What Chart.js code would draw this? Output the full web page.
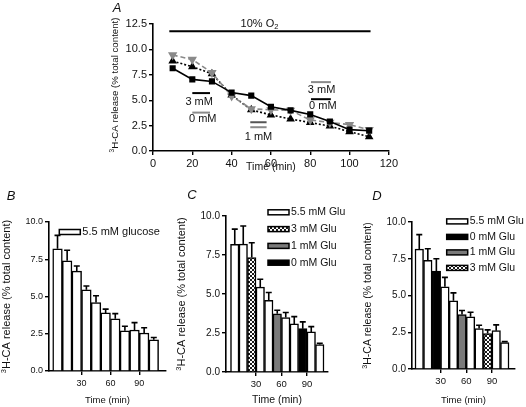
<!DOCTYPE html>
<html>
<head>
<meta charset="utf-8">
<script src="https://cdn.jsdelivr.net/npm/chart.js@4.4.1/dist/chart.umd.min.js"></script>
<style>
  html, body { margin: 0; padding: 0; background: #fff; }
  #fig { position: relative; width: 526px; height: 407px; overflow: hidden; }
  #fig canvas { position: absolute; }
</style>
</head>
<body>
<div id="fig">
  <canvas id="pA" width="300" height="180" style="left:100px;top:0px"></canvas>
  <canvas id="pB" width="175" height="227" style="left:0px;top:180px"></canvas>
  <canvas id="pC" width="175" height="227" style="left:175px;top:180px"></canvas>
  <canvas id="pD" width="176" height="227" style="left:350px;top:180px"></canvas>
</div>
<script>
// ─── DATA ─────────────────────────────────────────────────────────────────────
// panel A: single-run time courses (min, % total content)
const timeA = [10, 20, 30, 40, 50, 60, 70, 80, 90, 100, 110];
const lineSquares   = [8.15, 7.05, 6.85, 5.75, 5.45, 4.35, 4.0, 3.6, 2.9, 2.1, 2.0];
const lineGrey      = [9.45, 9.0, 7.7, 5.4, 4.15, 4.05, 4.0, 3.05, 2.8, 2.6, 2.1];
const lineTriangles = [8.85, 8.3, 7.6, 5.5, 4.05, 3.55, 3.15, 2.8, 2.45, 1.9, 1.4];

// panels B-D: 10 min collection bins, mean and SEM
const binMid = [5, 15, 25, 35, 45, 55, 65, 75, 85, 95, 105];
const meanB = [8.2, 7.4, 6.7, 5.45, 4.6, 3.9, 3.5, 2.7, 2.75, 2.55, 2.1];
const semB  = [0.9, 0.7, 0.35, 0.25, 0.45, 0.25, 0.35, 0.3, 0.5, 0.35, 0.15];
const gluB  = ['5.5','5.5','5.5','5.5','5.5','5.5','5.5','5.5','5.5','5.5','5.5'];

const meanC = [8.18, 8.2, 7.34, 5.44, 4.6, 3.73, 3.49, 3.08, 2.78, 2.57, 1.76];
const semC  = [0.98, 1.16, 0.95, 0.51, 0.5, 0.23, 0.32, 0.47, 0.43, 0.34, 0.08];
const gluC  = ['5.5','5.5','3','5.5','5.5','1','5.5','5.5','0','5.5','5.5'];

const meanD = [8.16, 7.39, 6.66, 5.59, 4.64, 3.7, 3.55, 2.75, 2.41, 2.61, 1.8];
const semD  = [0.98, 0.79, 0.84, 0.64, 0.54, 0.28, 0.31, 0.23, 0.25, 0.39, 0.06];
const gluD  = ['5.5','5.5','0','5.5','5.5','1','5.5','5.5','3','5.5','5.5'];

const legendC = ['5.5', '3', '1', '0'];
const legendD = ['5.5', '0', '1', '3'];
const ticksBars = [30, 60, 90];

// panel A protocol marks (time span, level on y)
const o2Span = { from: 8.3, to: 110.7, level: 11.78 };
const gluMarksA = [
  { from: 20, to: 29, level: 5.7, tone: 'k' },
  { from: 20, to: 29, level: 3.78, tone: 'g' },
  { from: 49.5, to: 57.8, level: 2.83, tone: 'd' },
  { from: 49.5, to: 57.8, level: 2.34, tone: 'g' },
  { from: 80.4, to: 90.5, level: 6.78, tone: 'g' },
  { from: 80.4, to: 90.5, level: 5.1, tone: 'k' }
];
const gluTextA = [
  { text: '3 mM', x: 23.5, y: 4.87 },
  { text: '0 mM', x: 25.3, y: 3.16 },
  { text: '1 mM', x: 53.7, y: 1.41 },
  { text: '3 mM', x: 85.8, y: 6.02 },
  { text: '0 mM', x: 86.4, y: 4.44 }
];

// ─── STYLE ────────────────────────────────────────────────────────────────────
const FAMILY = "'Liberation Sans', Arial, Helvetica, sans-serif";
const GREY = '#8a8a8a';
const TONES = { k: '#000', g: GREY, d: '#555' };
Chart.defaults.font.family = FAMILY;
Chart.defaults.color = '#111';
Chart.defaults.animation = false;

function hatch() {
  const t = document.createElement('canvas');
  t.width = t.height = 4;
  const g = t.getContext('2d');
  g.fillStyle = '#fff'; g.fillRect(0, 0, 4, 4);
  g.strokeStyle = '#000'; g.lineWidth = 0.9;
  g.beginPath(); g.moveTo(0, 0); g.lineTo(4, 4); g.moveTo(4, 0); g.lineTo(0, 4); g.stroke();
  return document.getElementById('pC').getContext('2d').createPattern(t, 'repeat');
}
const FILLS = { '5.5': '#fff', '3': hatch(), '1': '#7a7a7a', '0': '#000' };

function axis(o) {
  const a = {
    type: 'linear', min: o.min, max: o.max, offset: false,
    border: { display: true, color: '#000', width: 1.6 },
    grid: { display: true, drawOnChartArea: false, drawTicks: true, tickLength: o.tick || 4, color: '#000', lineWidth: 1.4, offset: false },
    ticks: { color: '#111', font: { size: o.size }, padding: o.pad ?? 2, stepSize: o.step, maxRotation: 0, autoSkip: false,
             callback: o.fmt || (v => v) },
    title: o.title ? { display: true, text: o.title, color: '#111', font: { size: o.titleSize }, padding: { top: 0, bottom: o.titlePad || 0 } }
                   : { display: false },
    afterFit: s => { if (o.w) s.width = o.w; if (o.h) s.height = o.h; }
  };
  if (o.only) a.afterBuildTicks = s => { s.ticks = o.only.map(v => ({ value: v })); };
  return a;
}
const fmt1 = v => Number(v).toFixed(1);

function textSub(ctx, main, small, x, y, size, raise) {
  // draws main text with a small sub/superscript; raise puts it in front, raised
  ctx.font = `${size}px ${FAMILY}`;
  const wm = ctx.measureText(main).width;
  ctx.font = `${size * 0.68}px ${FAMILY}`;
  const ws = ctx.measureText(small).width;
  let x0 = x - (wm + ws) / 2;
  ctx.textAlign = 'left'; ctx.textBaseline = 'middle';
  if (raise) {
    ctx.fillText(small, x0, y - size * 0.32);
    ctx.font = `${size}px ${FAMILY}`;
    ctx.fillText(main, x0 + ws, y);
  } else {
    ctx.font = `${size}px ${FAMILY}`;
    ctx.fillText(main, x0, y);
    ctx.font = `${size * 0.68}px ${FAMILY}`;
    ctx.fillText(small, x0 + wm, y + size * 0.3);
  }
}

// ─── DECOR PLUGIN (letters, y titles, legends, SEM whiskers, protocol marks) ─────
const decor = {
  id: 'decor',
  afterDraw(chart, args, o) {
    const { ctx, chartArea: a, scales: { x, y } } = chart;
    ctx.save();
    ctx.fillStyle = '#111';

    if (o.marks) {
      ctx.lineWidth = 2;
      o.marks.forEach(m => {
        ctx.strokeStyle = TONES[m.tone] || '#000';
        const py = y.getPixelForValue(m.level);
        ctx.beginPath(); ctx.moveTo(x.getPixelForValue(m.from), py); ctx.lineTo(x.getPixelForValue(m.to), py); ctx.stroke();
      });
      ctx.font = `11px ${FAMILY}`; ctx.textAlign = 'center'; ctx.textBaseline = 'middle';
      o.markText.forEach(t => ctx.fillText(t.text, x.getPixelForValue(t.x), y.getPixelForValue(t.y)));
      textSub(ctx, '10% O', '2', x.getPixelForValue(54.2), y.getPixelForValue(12.5), 11, false);
    }

    if (o.sem) {
      ctx.strokeStyle = '#000'; ctx.lineWidth = 1.6;
      const ds = chart.data.datasets[0];
      chart.getDatasetMeta(0).data.forEach((bar, i) => {
        const top = y.getPixelForValue(ds.data[i].y + ds.data[i].sem);
        ctx.beginPath();
        ctx.moveTo(bar.x, bar.y); ctx.lineTo(bar.x, top);
        ctx.moveTo(bar.x - 3, top); ctx.lineTo(bar.x + 3, top);
        ctx.stroke();
      });
    }

    if (o.legend) {
      const L = o.legend;
      L.items.forEach((it, i) => {
        const bx = a.left + L.dx, by = a.top + L.dy + i * L.gap;
        ctx.fillStyle = it.fill; ctx.fillRect(bx, by - 2.5, 21, 5);
        ctx.strokeStyle = '#000'; ctx.lineWidth = 1.5; ctx.strokeRect(bx, by - 2.5, 21, 5);
        ctx.fillStyle = '#111'; ctx.font = `${L.size}px ${FAMILY}`;
        ctx.textAlign = 'left'; ctx.textBaseline = 'middle';
        ctx.fillText(it.label, bx + 23, by);
      });
    }

    if (o.yTitle) {
      const t = o.yTitle;
      ctx.fillStyle = '#111';
      ctx.translate(a.left + t.dx, t.cy ?? (a.top + a.bottom) / 2);
      ctx.rotate(-Math.PI / 2);
      textSub(ctx, 'H-CA release (% total content)', '3', 0, 0, t.size, true);
      ctx.setTransform(1, 0, 0, 1, 0, 0);
    }

    if (o.letter) {
      ctx.fillStyle = '#111';
      ctx.font = `italic 13px ${FAMILY}`; ctx.textAlign = 'center'; ctx.textBaseline = 'middle';
      ctx.fillText(o.letter.text, o.letter.x, o.letter.y);
    }
    ctx.restore();
  }
};

// ─── PANEL A ──────────────────────────────────────────────────────────────────
new Chart(document.getElementById('pA'), {
  type: 'line',
  data: {
    labels: timeA,
    datasets: [
      { data: lineSquares, borderColor: '#000', backgroundColor: '#000', borderWidth: 1.6,
        pointStyle: 'rect', pointRadius: 3.2 },
      { data: lineGrey, borderColor: GREY, backgroundColor: GREY, borderWidth: 1.6, borderDash: [5, 3],
        pointStyle: 'triangle', pointRotation: 180, pointRadius: 3.8 },
      { data: lineTriangles, borderColor: '#000', backgroundColor: '#000', borderWidth: 1.6, borderDash: [2, 2],
        pointStyle: 'triangle', pointRadius: 3.4 }
    ]
  },
  options: {
    responsive: false, devicePixelRatio: 1,
    layout: { padding: { top: 24, right: 10, left: 0, bottom: 0 } },
    plugins: {
      legend: { display: false }, tooltip: { enabled: false },
      decor: { marks: gluMarksA.concat([{ ...o2Span, tone: 'k' }]), markText: gluTextA,
               yTitle: { dx: -38, cy: 85, size: 9.7 }, letter: { text: 'A', x: 17, y: 8 } }
    },
    scales: {
      x: axis({ min: 0, max: 120, step: 20, size: 11, pad: 2, title: 'Time (min)', titleSize: 10.5, titlePad: 7, h: 29 }),
      y: axis({ min: 0, max: 12.5, step: 2.5, size: 11, pad: 2, fmt: fmt1, w: 53 })
    }
  },
  plugins: [decor]
});

// ─── PANELS B-D ───────────────────────────────────────────────────────────────
function barPanel(id, p) {
  return new Chart(document.getElementById(id), {
    type: 'bar',
    data: {
      datasets: [{
        data: binMid.map((m, i) => ({ x: m, y: p.mean[i], sem: p.sem[i] })),
        backgroundColor: p.glu.map(g => FILLS[g]),
        borderColor: '#000', borderWidth: 1.5, borderSkipped: 'bottom',
        barPercentage: 1, categoryPercentage: 1
      }]
    },
    options: {
      responsive: false, devicePixelRatio: 1,
      layout: { padding: { top: p.top, right: p.right, left: 0, bottom: 0 } },
      plugins: {
        legend: { display: false }, tooltip: { enabled: false },
        decor: { sem: true, legend: p.legend, yTitle: p.yTitle, letter: p.letter }
      },
      scales: {
        x: axis({ min: p.xmin, max: p.xmax, only: ticksBars, size: p.xs, pad: 3,
                  title: 'Time (min)', titleSize: p.ts, titlePad: 1, h: p.h }),
        y: axis({ min: 0, max: 10, step: 2.5, size: p.ys, pad: 2, fmt: fmt1, w: p.w })
      }
    },
    plugins: [decor]
  });
}

barPanel('pB', {
  mean: meanB, sem: semB, glu: gluB, top: 42, right: 9, w: 49, h: 36,
  xmin: -3.85, xmax: 117.7, xs: 9, ys: 9, ts: 9.5,
  legend: { dx: 10.3, dy: 10, gap: 17, size: 11, items: [{ label: '5.5 mM glucose', fill: FILLS['5.5'] }] },
  yTitle: { dx: -42, size: 11 }, letter: { text: 'B', x: 11, y: 16 }
});

barPanel('pC', {
  mean: meanC, sem: semC, glu: gluC, top: 36, right: 22, w: 51, h: 35,
  xmin: -5.3, xmax: 114.7, xs: 9.5, ys: 10, ts: 10.5,
  legend: { dx: 42, dy: -3.7, gap: 16.8, size: 10.5,
            items: legendC.map(g => ({ label: g + ' mM Glu', fill: FILLS[g] })) },
  yTitle: { dx: -44, size: 11 }, letter: { text: 'C', x: 17, y: 15 }
});

barPanel('pD', {
  mean: meanD, sem: semD, glu: gluD, top: 42, right: 11, w: 62, h: 38,
  xmin: -3.5, xmax: 117, xs: 9.5, ys: 10, ts: 9.5,
  legend: { dx: 34.7, dy: -0.6, gap: 15.5, size: 10.5,
            items: legendD.map(g => ({ label: g + ' mM Glu', fill: FILLS[g] })) },
  yTitle: { dx: -44, size: 10.5 }, letter: { text: 'D', x: 27, y: 16 }
});
</script>
</body>
</html>
